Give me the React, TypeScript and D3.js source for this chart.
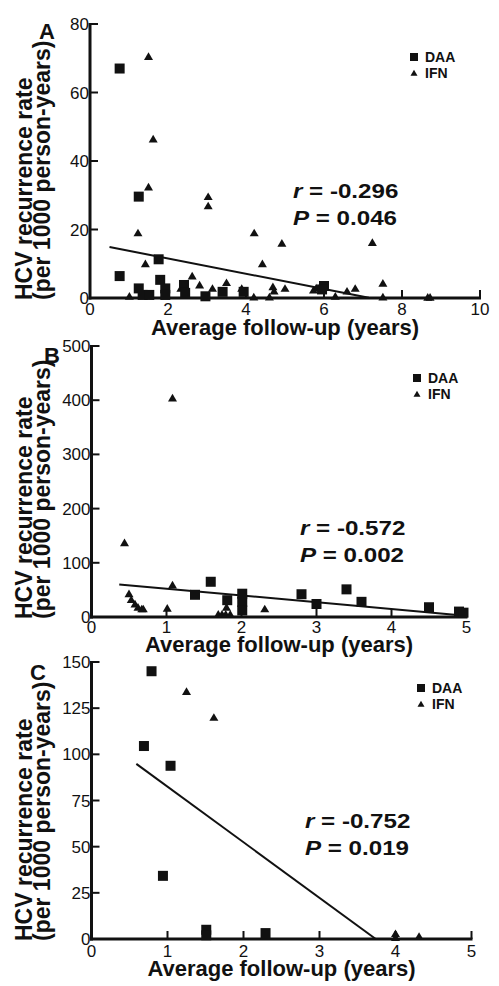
import React from "react";
import * as d3 from "d3";

// ---------- Data ----------
// Panel A
const aDaaX = [0.76, 1.25, 0.76, 1.76, 1.25, 1.35, 1.52, 1.8, 1.93, 1.93, 2.41, 2.44, 2.96, 3.4, 3.94, 6.0, 5.95];
const aDaaY = [67, 29.6, 6.4, 11.3, 2.8, 0.9, 0.9, 5.3, 2.8, 0.9, 3.8, 1.5, 0.5, 1.8, 1.8, 3.5, 2.5];
const aIfnX = [1.5, 1.62, 1.5, 1.23, 1.42, 3.03, 3.03, 4.21, 4.42, 2.62, 2.81, 3.14, 3.5, 3.89, 4.92, 7.24, 4.69, 4.72, 5.0, 2.33, 1.01, 4.2, 4.6, 5.73, 5.8, 6.29, 6.59, 6.8, 7.51, 7.51, 8.66, 8.72];
const aIfnY = [70.5, 46.4, 32.4, 19, 10, 29.6, 26.9, 19, 10, 6.4, 3.8, 2.8, 4.5, 2.8, 16, 16.2, 3.3, 2, 2.8, 2.8, 0.5, 0.3, 0.3, 2.3, 2.9, 0.5, 2, 2.8, 4.3, 0.3, 0.2, 0.2];
const aXTicks = [0, 2, 4, 6, 8, 10];
const aYTicks = [0, 20, 40, 60, 80];
const aFit = { slope: -2.23, intercept: 16.0, x0: 0.5, x1: 7.15 };
const aStats = ["-0.296", "0.046"];

// Panel B
const bDaaX = [1.38, 1.59, 1.81, 2.01, 2.01, 2.01, 2.8, 3.0, 3.4, 3.6, 4.5, 4.9, 4.96];
const bDaaY = [41, 65, 31, 43, 28, 12, 42, 24, 51, 28, 18, 10, 8];
const bIfnX = [0.44, 0.5, 0.53, 0.58, 0.62, 0.67, 0.69, 1.01, 1.08, 1.08, 1.69, 1.74, 1.79, 1.85, 1.8, 2.31];
const bIfnY = [137, 43, 32, 24, 18, 15, 15, 16, 404, 59, 5, 5, 5, 5, 18, 15];
const bXTicks = [0, 1, 2, 3, 4, 5];
const bYTicks = [0, 100, 200, 300, 400, 500];
const bFit = { slope: -12.5, intercept: 64.7, x0: 0.37, x1: 4.95 };
const bStats = ["-0.572", "0.002"];

// Panel C
const cDaaX = [0.79, 0.69, 1.04, 0.94, 1.51, 1.51, 2.29];
const cDaaY = [145, 104.5, 93.8, 34.2, 5, 2, 3.2];
const cIfnX = [1.25, 1.61, 4.0, 4.0, 4.31];
const cIfnY = [134, 120, 2.9, 0.8, 1.4];
const cXTicks = [0, 1, 2, 3, 4, 5];
const cYTicks = [0, 25, 50, 75, 100, 125, 150];
const cFit = { slope: -30.1, intercept: 112.6, x0: 0.59, x1: 3.74 };
const cStats = ["-0.752", "0.019"];

const legendLabels = ["DAA", "IFN"];
const xTitle = "Average follow-up (years)";
const yTitle = ["HCV recurrence rate", "(per 1000 person-years)"];

const FONT = "'Liberation Sans', Arial, sans-serif";
const INK = "#111";

type PanelCfg = {
  label: string;
  labelPos: [number, number];
  daaX: number[]; daaY: number[]; ifnX: number[]; ifnY: number[];
  xTicks: number[]; yTicks: number[];
  xDomain: [number, number]; yDomain: [number, number];
  xRange: [number, number]; yRange: [number, number];
  fit: { slope: number; intercept: number; x0: number; x1: number };
  stats: string[];
  statsPos: [number, number];
  legendPos: [number, number];
  xTickBaseline: number;
  titleBaseline: number;
};

const tri = (s: number) => {
  const h = s * 0.85;
  return `M0,${-h * 0.55}L${s / 2},${h * 0.45}L${-s / 2},${h * 0.45}Z`;
};

function Panel({ cfg }: { cfg: PanelCfg }) {
  const x = d3.scaleLinear().domain(cfg.xDomain).range(cfg.xRange);
  const y = d3.scaleLinear().domain(cfg.yDomain).range(cfg.yRange);
  const [x0, x1] = cfg.xRange;
  const [y0, y1] = cfg.yRange;
  const line = d3.line<number>()
    .x((d) => x(d))
    .y((d) => y(cfg.fit.intercept + cfg.fit.slope * d));
  const midX = (x0 + x1) / 2;
  return (
    <g>
      {/* panel letter */}
      <text x={cfg.labelPos[0]} y={cfg.labelPos[1]} fontFamily={FONT} fontWeight="bold" fontSize={22} fill={INK} textAnchor="middle">{cfg.label}</text>
      {/* y title */}
      <g transform={`translate(0,${y0 + 2}) rotate(-90)`}>
        <text x={0} y={32} fontFamily={FONT} fontWeight="bold" fontSize={23} fill={INK} textAnchor="start">{yTitle[0]}</text>
        <text x={0} y={50} fontFamily={FONT} fontWeight="bold" fontSize={23} fill={INK} textAnchor="start">{yTitle[1]}</text>
      </g>
      {/* x title */}
      <text x={midX} y={cfg.titleBaseline} fontFamily={FONT} fontWeight="bold" fontSize={22} fill={INK} textAnchor="middle">{xTitle}</text>
      {/* axes */}
      <line x1={x0} x2={x0} y1={y0 + 1.5} y2={y1 - 1} stroke={INK} strokeWidth={3} />
      <line x1={x0 - 1.5} x2={x1 + 1} y1={y0} y2={y0} stroke={INK} strokeWidth={3} />
      {cfg.yTicks.map((t) => (
        <g key={"yt" + t}>
          <line x1={x0} x2={x0 + 8} y1={y(t)} y2={y(t)} stroke={INK} strokeWidth={2} />
          <text x={x0 - 1} y={y(t) + 6} fontFamily={FONT} fontSize={17} fill={INK} textAnchor="end">{t}</text>
        </g>
      ))}
      {cfg.xTicks.map((t) => (
        <g key={"xt" + t}>
          <line x1={x(t)} x2={x(t)} y1={y0} y2={y0 - 8} stroke={INK} strokeWidth={2} />
          <text x={x(t)} y={cfg.xTickBaseline} fontFamily={FONT} fontSize={17} fill={INK} textAnchor="middle">{t}</text>
        </g>
      ))}
      {/* regression line */}
      <path d={line([cfg.fit.x0, cfg.fit.x1]) || ""} stroke={INK} strokeWidth={2} fill="none" />
      {/* points */}
      {cfg.ifnX.map((v, i) => (
        <path key={"i" + i} d={tri(9)} transform={`translate(${x(v)},${y(cfg.ifnY[i])})`} fill={INK} />
      ))}
      {cfg.daaX.map((v, i) => (
        <rect key={"d" + i} x={x(v) - 5} y={y(cfg.daaY[i]) - 5} width={10} height={10} fill={INK} />
      ))}
      {/* stats */}
      <g transform={`translate(${cfg.statsPos[0]},${cfg.statsPos[1]}) scale(1.15,1)`}>
        <text x={0} y={0} fontFamily={FONT} fontWeight="bold" fontSize={21} fill={INK}>
          <tspan fontStyle="italic">r</tspan>
          <tspan>{" = " + cfg.stats[0]}</tspan>
        </text>
        <text x={0} y={27} fontFamily={FONT} fontWeight="bold" fontSize={21} fill={INK}>
          <tspan fontStyle="italic">P</tspan>
          <tspan>{" = " + cfg.stats[1]}</tspan>
        </text>
      </g>
      {/* legend */}
      <rect x={cfg.legendPos[0] - 4} y={cfg.legendPos[1] - 4} width={8} height={8} fill={INK} />
      <path d={tri(7)} transform={`translate(${cfg.legendPos[0]},${cfg.legendPos[1] + 16})`} fill={INK} />
      <text x={cfg.legendPos[0] + 11} y={cfg.legendPos[1] + 5} fontFamily={FONT} fontWeight="bold" fontSize={14} fill={INK}>{legendLabels[0]}</text>
      <text x={cfg.legendPos[0] + 11} y={cfg.legendPos[1] + 21} fontFamily={FONT} fontWeight="bold" fontSize={14} fill={INK}>{legendLabels[1]}</text>
    </g>
  );
}

const panels: PanelCfg[] = [
  {
    label: "A", labelPos: [47, 39],
    daaX: aDaaX, daaY: aDaaY, ifnX: aIfnX, ifnY: aIfnY,
    xTicks: aXTicks, yTicks: aYTicks,
    xDomain: [0, 10], yDomain: [0, 80],
    xRange: [90, 480], yRange: [298, 24],
    fit: aFit, stats: aStats, statsPos: [293, 198],
    legendPos: [414, 57], xTickBaseline: 315, titleBaseline: 335,
  },
  {
    label: "B", labelPos: [52, 363],
    daaX: bDaaX, daaY: bDaaY, ifnX: bIfnX, ifnY: bIfnY,
    xTicks: bXTicks, yTicks: bYTicks,
    xDomain: [0, 5], yDomain: [0, 500],
    xRange: [91.5, 466.5], yRange: [617, 346],
    fit: bFit, stats: bStats, statsPos: [300, 535],
    legendPos: [417, 378], xTickBaseline: 633, titleBaseline: 652,
  },
  {
    label: "C", labelPos: [38, 680],
    daaX: cDaaX, daaY: cDaaY, ifnX: cIfnX, ifnY: cIfnY,
    xTicks: cXTicks, yTicks: cYTicks,
    xDomain: [0, 5], yDomain: [0, 150],
    xRange: [91.5, 471.5], yRange: [939, 662],
    fit: cFit, stats: cStats, statsPos: [305, 828],
    legendPos: [421, 688], xTickBaseline: 957, titleBaseline: 976,
  },
];

export default function App() {
  return (
    <svg width={499} height={986} viewBox="0 0 499 986" style={{ position: "absolute", left: 0, top: 0, background: "#fff" }}>
      <rect width={499} height={986} fill="#fff" />
      {panels.map((p) => (
        <Panel key={p.label} cfg={p} />
      ))}
    </svg>
  );
}
